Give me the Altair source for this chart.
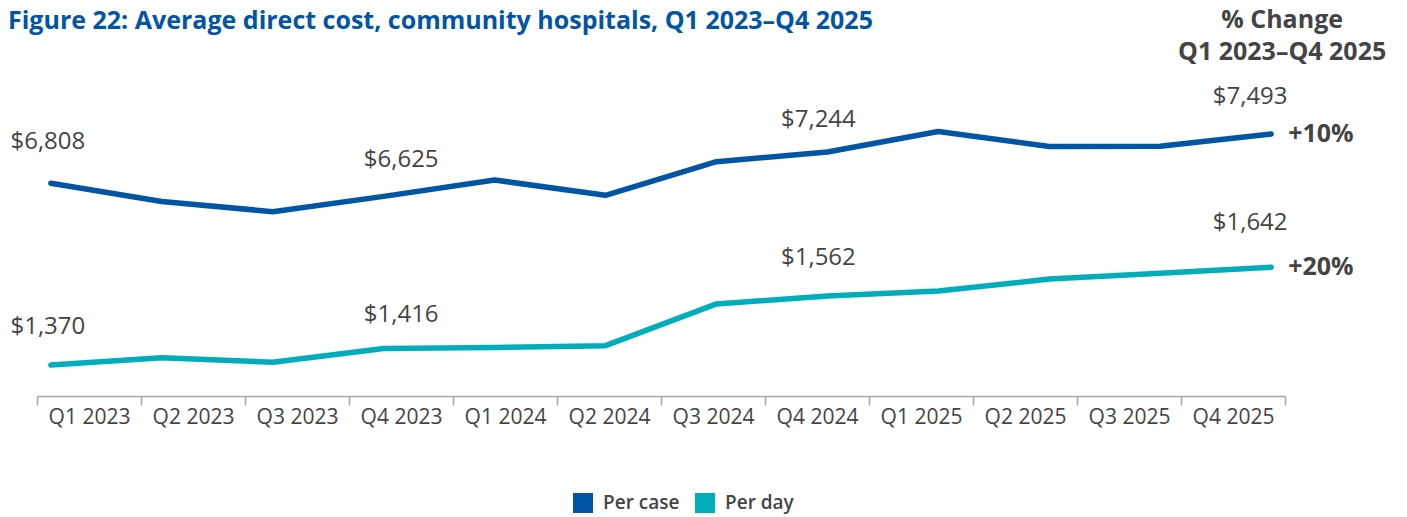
import altair as alt
import pandas as pd

# ---------------- data ----------------
quarters = ["Q1 2023", "Q2 2023", "Q3 2023", "Q4 2023",
            "Q1 2024", "Q2 2024", "Q3 2024", "Q4 2024",
            "Q1 2025", "Q2 2025", "Q3 2025", "Q4 2025"]
per_case = [6808, 6554, 6412, 6625, 6853, 6640, 7108, 7244, 7529, 7320, 7322, 7493]
per_day = [1370, 1390, 1378, 1416, 1419, 1424, 1540, 1562, 1576, 1609, 1625, 1642]
series_names = ["Per case", "Per day"]
labeled_quarters = ["Q1 2023", "Q4 2023", "Q4 2024", "Q4 2025"]
pct_change = ["+10%", "+20%"]
title_text = "Figure 22: Average direct cost, community hospitals, Q1 2023\u2013Q4 2025"
header_lines = ["% Change", "Q1 2023\u2013Q4 2025"]

# ---------------- style ----------------
FONT = "Open Sans"
TEXT = "#444444"
COLORS = ["#0055A4", "#00AEBB"]
W, H = 1248, 336
LABEL_OFFSETS = {
    "Per case": [(-3, -41.6), (17.5, -36.7), (-9, -31.9), (-21, -37.4)],
    "Per day": [(-3, -38.3), (17.5, -33.5), (-9, -37.7), (-21, -43.9)],
}
Y_DOMAINS = {"Per case": [3844, 8525], "Per day": [1284, 2218]}


def make_df(name, vals):
    return pd.DataFrame({
        "quarter": quarters,
        "value": vals,
        "series": name,
        "label": ["$" + f"{v:,}" for v in vals],
    })


dfs = {"Per case": make_df("Per case", per_case), "Per day": make_df("Per day", per_day)}

x_point = alt.X("quarter:N", sort=quarters,
                scale=alt.Scale(type="point", domain=quarters, padding=0.125), axis=None)

color_enc = alt.Color(
    "series:N",
    scale=alt.Scale(domain=series_names, range=COLORS),
    legend=alt.Legend(
        title=None, orient="none", direction="horizontal",
        legendX=536, legendY=433,
        symbolType="square", symbolSize=100, symbolStrokeWidth=10,
        symbolOpacity=1,
        labelFont=FONT, labelFontSize=19, labelFontWeight=600,
        labelColor=TEXT, labelOffset=10, columnPadding=0,
    ),
)


def series_group(name, idx):
    df = dfs[name]
    y_enc = alt.Y("value:Q", scale=alt.Scale(domain=Y_DOMAINS[name], zero=False, nice=False),
                  axis=None)
    line = alt.Chart(df).mark_line(strokeWidth=5.5, strokeCap="round", strokeJoin="round").encode(
        x=x_point, y=y_enc, color=color_enc)
    layers = [line]
    for q, (dx, dy) in zip(labeled_quarters, LABEL_OFFSETS[name]):
        layers.append(
            alt.Chart(df).transform_filter(alt.datum.quarter == q)
            .mark_text(font=FONT, fontSize=24, color=TEXT, dx=dx, dy=dy, baseline="middle")
            .encode(x=x_point, y=y_enc, text="label:N")
        )
    pct_df = df[df["quarter"] == quarters[-1]].assign(pct=pct_change[idx])
    layers.append(
        alt.Chart(pct_df).mark_text(font=FONT, fontSize=25, fontWeight="bold", color=TEXT,
                                    align="left", baseline="middle", dx=17)
        .encode(x=x_point, y=y_enc, text="pct:N")
    )
    return alt.layer(*layers)


case_group = series_group("Per case", 0)
day_group = series_group("Per day", 1)

header_df = pd.DataFrame({"quarter": [quarters[-1]] * 2, "line": header_lines})
header_layers = [
    alt.Chart(header_df.iloc[[i]]).mark_text(font=FONT, fontSize=25, fontWeight="bold",
                                             color=TEXT, baseline="middle", dx=11)
    .encode(x=x_point, y=alt.value(yv), text="line:N")
    for i, yv in enumerate([-40, -8])
]
title_df = pd.DataFrame({"t": [title_text]})
title_layer = alt.Chart(title_df).mark_text(
    font=FONT, fontSize=25, fontWeight="bold", color="#0055A4",
    align="left", baseline="alphabetic",
).encode(x=alt.value(-29), y=alt.value(-31), text="t:N")
header_group = alt.layer(*header_layers, title_layer)

axis_df = pd.DataFrame({"quarter": quarters})
axis_layer = alt.Chart(axis_df).mark_point(opacity=0).encode(
    x=alt.X("quarter:N", sort=quarters,
            scale=alt.Scale(type="band", paddingInner=0, paddingOuter=0),
            axis=alt.Axis(title=None, orient="bottom", tickBand="extent", labelAngle=0,
                          labelFont=FONT, labelFontSize=21, labelColor=TEXT,
                          domainColor="#a6a6a6", domainWidth=1.5,
                          tickColor="#a6a6a6", tickWidth=1.5, tickSize=9,
                          labelPadding=1, grid=False)),
)

chart = (
    alt.layer(axis_layer, case_group, day_group, header_group)
    .resolve_scale(x="independent", y="independent")
    .properties(
        width=W, height=H,
        autosize=alt.AutoSizeParams(type="none"),
        padding={"left": 29, "top": 52, "right": 113, "bottom": 121},
    )
    .configure(font=FONT)
    .configure_view(strokeWidth=0, stroke="transparent")
)

chart.save("out.html", embed_options={"renderer": "svg", "actions": False})
